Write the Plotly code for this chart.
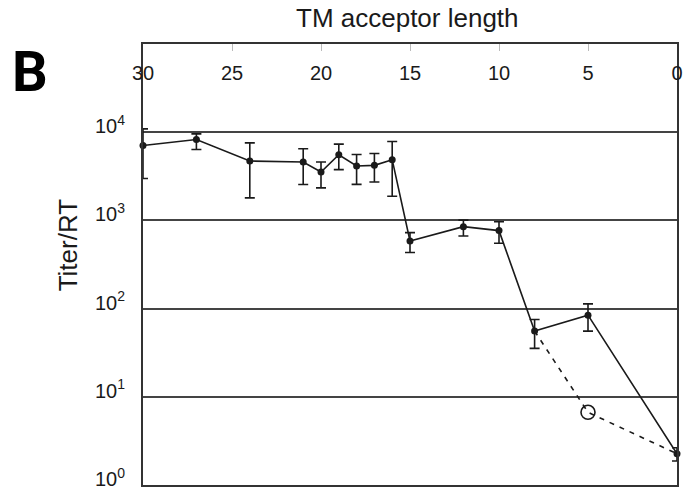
import plotly.graph_objects as go

# TM acceptor length (x) and Titer/RT (y)
lengths = [30, 27, 24, 21, 20, 19, 18, 17, 16, 15, 12, 10, 8, 5, 0]
titer = [7060, 8260, 4710, 4590, 3540, 5550, 4140, 4210, 4880, 585, 849, 766, 55.6, 84.3, 2.26]
titer_upper = [10900, 9560, 7570, 6490, 4590, 7330, 5590, 5740, 7830, 727, 1006, 966, 75.2, 113, 2.64]
titer_lower = [2980, 6370, 1800, 2550, 2340, 3760, 2560, 2730, 1880, 433, 665, 551, 35.4, 55.6, 1.87]

alt_lengths = [8, 5, 0]
alt_titer = [55.6, 6.67, 2.26]
alt_open = [False, True, False]

x_ticks = [30, 25, 20, 15, 10, 5, 0]
y_ticks = [1, 10, 100, 1000, 10000]
y_ticktext = ["10<sup>0</sup>", "10<sup>1</sup>", "10<sup>2</sup>", "10<sup>3</sup>", "10<sup>4</sup>"]

err_plus = [u - v for u, v in zip(titer_upper, titer)]
err_minus = [v - l for v, l in zip(titer, titer_lower)]

FONT = "Liberation Sans, Arial, sans-serif"
INK = "#1a1a1a"

fig = go.Figure()

# dashed alternative path
fig.add_trace(go.Scatter(
    x=alt_lengths, y=alt_titer, mode="lines",
    line=dict(color=INK, width=1.6, dash="5px,6px"),
    cliponaxis=False, showlegend=False, hoverinfo="skip",
))
open_x = [x for x, o in zip(alt_lengths, alt_open) if o]
open_y = [y for y, o in zip(alt_titer, alt_open) if o]
fig.add_trace(go.Scatter(
    x=open_x, y=open_y, mode="markers",
    marker=dict(symbol="circle-open", size=14, color=INK, line=dict(width=1.6)),
    cliponaxis=False, showlegend=False,
))

# main series with error bars
fig.add_trace(go.Scatter(
    x=lengths, y=titer, mode="lines+markers",
    line=dict(color=INK, width=1.6),
    marker=dict(symbol="circle", size=7, color=INK),
    error_y=dict(type="data", symmetric=False, array=err_plus, arrayminus=err_minus,
                 color=INK, thickness=1.6, width=5),
    cliponaxis=False, showlegend=False,
))

fig.update_layout(
    width=695, height=502,
    margin=dict(l=143, r=12, t=44, b=14),
    paper_bgcolor="white", plot_bgcolor="white",
    font=dict(family=FONT, color=INK),
    xaxis=dict(
        side="top", range=[30, 0], tickvals=x_ticks,
        ticks="inside", ticklen=7, tickcolor="#bbbbbb", tickwidth=1,
        ticklabelposition="inside", ticklabeloverflow="allow", ticklabelstandoff=16,
        tickfont=dict(size=20, family=FONT, color=INK),
        showline=True, linecolor="#333333", linewidth=2, mirror=True,
        showgrid=False, zeroline=False,
    ),
    yaxis=dict(
        type="log", range=[0, 5], tickvals=y_ticks, ticktext=y_ticktext,
        ticks="", tickfont=dict(size=20, family=FONT, color=INK),
        ticklabelshift=-6, ticklabelstandoff=12, ticklabeloverflow="allow",
        showline=True, linecolor="#333333", linewidth=2, mirror=True,
        showgrid=True, gridcolor="#444444", gridwidth=1.5, zeroline=False,
    ),
    annotations=[
        dict(text="TM acceptor length", xref="paper", yref="paper", x=0.496, y=1.058,
             xanchor="center", yanchor="middle", showarrow=False,
             font=dict(size=26, family=FONT, color=INK)),
        dict(text="Titer/RT", xref="paper", yref="paper", x=-0.141, y=0.545,
             xanchor="center", yanchor="middle", textangle=-90, showarrow=False,
             font=dict(size=26, family=FONT, color=INK)),
        dict(text="<b>B</b>", xref="paper", yref="paper", x=-0.212, y=0.9375,
             xanchor="center", yanchor="middle", showarrow=False,
             font=dict(size=56, family="Roboto, sans-serif", color="#000000")),
    ],
)

fig.write_html(
    "out.html",
    config={"displayModeBar": False},
    post_script="document.body.style.margin='0';document.body.style.overflow='hidden';",
)
